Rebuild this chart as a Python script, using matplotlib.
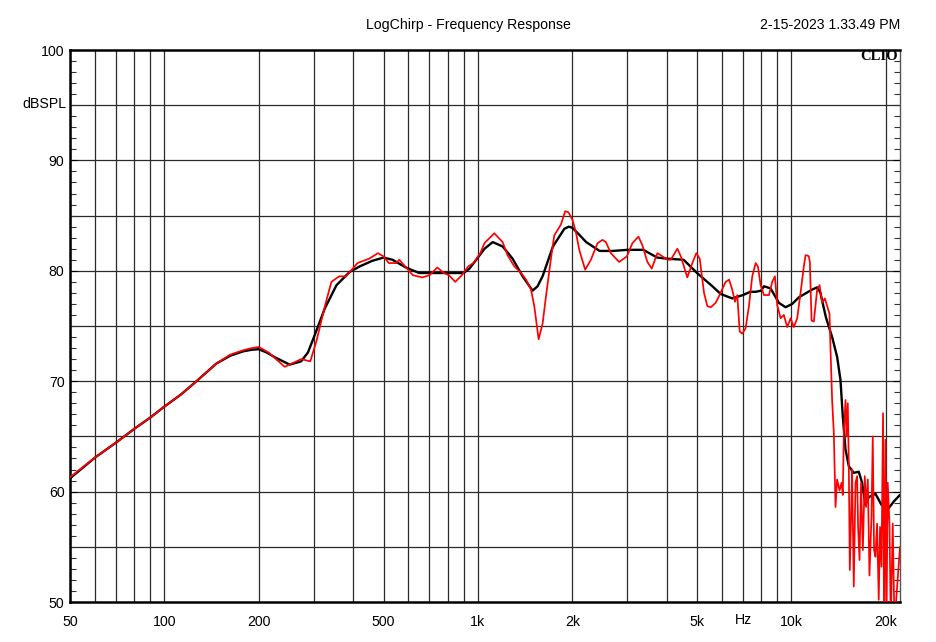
import numpy as np
import matplotlib
matplotlib.use("Agg")
import matplotlib.pyplot as plt
from matplotlib import font_manager
from matplotlib.ticker import FixedLocator, MultipleLocator

names = {f.name for f in font_manager.fontManager.ttflist}
NARROW = 'Liberation Sans Narrow' in names
FAM = 'Liberation Sans Narrow' if NARROW else 'Liberation Sans'
FS = 12 if NARROW else 10.2
plt.rcParams['font.family'] = [FAM, 'DejaVu Sans']

# ---------------- data ----------------
black_freq = [50, 60.2, 70.6, 80.3, 90.1, 100, 113, 126.6, 146.5, 162, 178, 190, 200, 212, 224, 251, 273,
              287, 300, 325, 354, 390, 420, 460, 500, 534, 589, 650, 700, 800, 900, 940, 1000, 1050,
              1115, 1200, 1290, 1389, 1494, 1550, 1608, 1735, 1886, 1950, 2000, 2100, 2215, 2444, 2700,
              3000, 3370, 3730, 4000, 4530, 5000, 5595, 5950, 6475, 7000, 7400, 7700, 8000, 8175, 8585,
              9120, 9580, 10060, 10565, 11645, 12080, 12375, 12880, 13485, 13990, 14340, 14585, 14880,
              15245, 15810, 16400, 16805, 17225, 17650, 18540, 19375, 20440, 21205, 22200]
black_db = [61.2, 63.1, 64.5, 65.7, 66.7, 67.7, 68.8, 70.0, 71.6, 72.3, 72.7, 72.85, 72.9, 72.6, 72.2, 71.5, 71.8,
            72.6, 74.0, 76.6, 78.7, 79.9, 80.4, 80.9, 81.2, 81.0, 80.3, 79.8, 79.8, 79.8, 79.8, 80.2, 81.2, 82.0,
            82.6, 82.2, 81.1, 79.5, 78.2, 78.6, 79.5, 82.2, 83.8, 84.0, 83.9, 83.3, 82.6, 81.8, 81.8,
            81.9, 81.9, 81.2, 81.1, 81.0, 79.8, 78.6, 77.9, 77.5, 77.8, 78.1, 78.1, 78.2, 78.6, 78.4,
            77.1, 76.7, 77.0, 77.6, 78.3, 78.5, 78.0, 75.8, 74.0, 72.2, 70.1, 66.8, 63.8,
            62.3, 61.7, 61.8, 60.8, 58.8, 59.5, 59.8, 58.8, 58.5, 59.1, 59.7]

red_freq = [50, 60.2, 70.6, 80.3, 90.1, 100, 113, 126.6, 146.5, 162, 178, 190, 200, 215, 242, 273, 292, 306,
            325, 341, 361, 380, 413, 450, 480, 500, 520, 549, 561, 582, 620, 665, 701, 742, 779, 808, 847,
            888, 932, 968, 1018, 1049, 1128, 1199, 1244, 1307, 1373, 1424, 1477, 1513, 1562, 1608, 1649,
            1710, 1752, 1840, 1899, 1945, 2004, 2054, 2105, 2199, 2293, 2407, 2497, 2560, 2655, 2821,
            2986, 3110, 3251, 3348, 3472, 3586, 3737, 3836, 4022, 4124, 4328, 4440, 4655, 4830, 4975,
            5100, 5264, 5393, 5530, 5735, 5875, 6170, 6325, 6475, 6605, 6720, 6840, 6970, 7145, 7320,
            7500, 7690, 7820, 7975, 8175, 8480, 8685, 8860, 9010, 9235, 9460, 9695, 9940, 10180,
            10435, 10695, 10955, 11095, 11225, 11365, 11450, 11595, 11790, 12080, 12295, 12530,
            12780, 13000, 13230, 13330, 13485, 13655, 13825, 13990, 14240, 14450, 14585, 14695,
            14880, 14990, 15130, 15245, 15355, 15500, 15615, 15810, 16010, 16200, 16320, 16490,
            16680, 16895, 17140, 17305, 17525, 17740, 18005, 18175, 18350, 18540, 18760, 18990,
            19175, 19375, 19600, 19745, 19950, 20095, 20290, 20550, 20745, 21050, 21315, 22200]
red_db = [61.3, 63.1, 64.5, 65.7, 66.7, 67.7, 68.8, 70.0, 71.6, 72.4, 72.8, 73.0, 73.1, 72.6, 71.3, 72.0, 71.8,
          73.7, 76.8, 79.0, 79.5, 79.5, 80.7, 81.1, 81.6, 81.3, 80.7, 80.7, 81.0, 80.5, 79.6, 79.4, 79.6, 80.3,
          79.8, 79.6, 79.0, 79.6, 80.4, 80.7, 81.6, 82.5, 83.4, 82.6, 81.4, 80.4, 79.8, 79.2, 78.3, 76.8, 73.8,
          75.2, 77.7, 81.1, 83.2, 84.2, 85.4, 85.3, 84.6, 83.5, 81.9, 80.1, 81.0, 82.5, 82.8, 82.6, 81.6, 80.8,
          81.3, 82.5, 83.1, 82.3, 80.8, 80.2, 81.6, 81.4, 81.0, 81.0, 82.0, 81.3, 79.4, 80.7, 81.6,
          81.1, 78.0, 76.8, 76.7, 77.1, 77.7, 79.0, 79.2, 78.3, 77.2, 77.8, 74.5, 74.3, 74.8, 76.8,
          79.5, 80.7, 80.4, 78.7, 77.8, 77.8, 79.0, 79.5, 76.9, 75.7, 76.0, 74.9, 75.7, 74.9,
          75.7, 78.0, 80.4, 81.4, 81.4, 81.3, 80.8, 75.5, 75.4, 78.3, 78.7, 77.1,
          77.5, 76.8, 76.1, 72.8, 68.3, 65.3, 58.6, 61.1, 60.1, 60.8, 59.7, 65.3,
          68.3, 65.0, 68.0, 62.3, 52.9, 57.7, 62.0, 51.4, 60.8, 61.4, 56.8, 53.8,
          60.8, 54.7, 61.4, 58.6, 61.1, 52.4, 57.7, 65.0, 54.7, 54.1, 57.1, 50.2,
          56.8, 53.2, 67.1, 48.0, 64.7, 48.0, 60.8, 57.1, 48.0, 57.1, 48.0, 55.0]

grid_freqs = [50, 60, 70, 80, 90, 100, 200, 300, 400, 500, 600, 700, 800, 900, 1000,
              2000, 3000, 4000, 5000, 6000, 7000, 8000, 9000, 10000, 20000]
label_freqs = [50, 100, 200, 500, 1000, 2000, 5000, 10000, 20000]
label_texts = ['50', '100', '200', '500', '1k', '2k', '5k', '10k', '20k']
y_labels = [50, 60, 70, 80, 90, 100]

# ---------------- figure ----------------
W, H = 936, 642
fig = plt.figure(figsize=(W / 100, H / 100), dpi=100)
fig.patch.set_facecolor('white')
L, R, T, B = 70, 900, 50, 602
ax = fig.add_axes([L / W, 1 - B / H, (R - L) / W, (B - T) / H])
ax.set_xscale('log')
ax.set_xlim(50, 22200)
ax.set_ylim(50, 100)

# grid
for f in grid_freqs:
    ax.axvline(f, color='#2a2a2a', lw=0.9, zorder=1)
for v in range(55, 100, 5):
    ax.axhline(v, color='#2a2a2a', lw=0.9, zorder=1)

ax.plot(black_freq, black_db, color='black', lw=1.7, zorder=3,
        solid_joinstyle='round', solid_capstyle='round')
ax.plot(red_freq, red_db, color='#ff0000', lw=1.25, zorder=4,
        solid_joinstyle='round', solid_capstyle='round')

# ticks
ax.xaxis.set_major_locator(FixedLocator(label_freqs))
ax.xaxis.set_minor_locator(FixedLocator([]))
ax.set_xticklabels(label_texts)
ax.tick_params(axis='x', which='both', length=0, pad=9, labelsize=FS)
ax.set_yticks(y_labels)
ax.yaxis.set_minor_locator(MultipleLocator(1))
ax.tick_params(axis='y', which='major', direction='in', length=5, width=0.8,
               left=True, right=True, labelsize=FS, pad=4)
ax.tick_params(axis='y', which='minor', direction='in', length=4, width=0.8,
               left=True, right=True, color='#333333')

for side in ['left', 'bottom', 'top']:
    ax.spines[side].set_linewidth(1.8)
    ax.spines[side].set_color('black')
ax.spines['right'].set_linewidth(1.0)
ax.spines['right'].set_color('#555555')

# texts
fig.text(468 / W, 1 - 25 / H, 'LogChirp - Frequency Response', ha='center', va='center', fontsize=FS)
fig.text(900 / W, 1 - 25 / H, '2-15-2023 1.33.49 PM', ha='right', va='center', fontsize=FS)
fig.text(66 / W, 1 - 104 / H, 'dBSPL', ha='right', va='center', fontsize=FS)
fig.text(743 / W, 1 - 620 / H, 'Hz', ha='center', va='center', fontsize=FS)
fig.text(898 / W, 1 - 57 / H, 'CLIO', ha='right', va='center', fontsize=10.5,
         fontweight='bold', family=['Liberation Serif', 'DejaVu Serif'])

fig.savefig('out.png', dpi=100)
